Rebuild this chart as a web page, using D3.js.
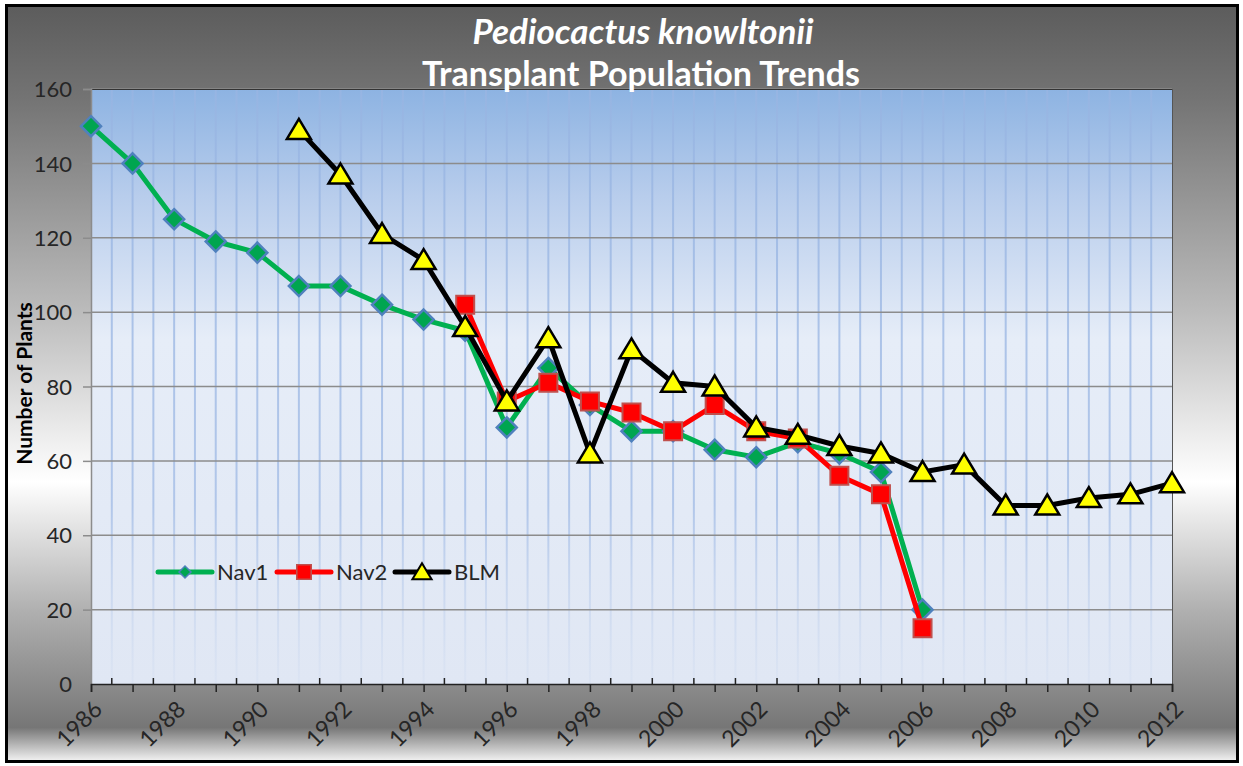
<!DOCTYPE html>
<html>
<head>
<meta charset="utf-8">
<script src="https://cdn.jsdelivr.net/npm/d3@7/dist/d3.min.js"></script>
<style>
  body { margin: 0; background: #fff; }
  svg { display: block; }
  text { font-family: Lato, "Open Sans", sans-serif; }
</style>
</head>
<body>
<div id="chart"></div>
<script>
// data
var nav1Years = [1986, 1987, 1988, 1989, 1990, 1991, 1992, 1993, 1994, 1995, 1996, 1997, 1998, 1999, 2000, 2001, 2002, 2003, 2004, 2005, 2006];
var nav1Values = [150, 140, 125, 119, 116, 107, 107, 102, 98, 95, 69, 85, 75, 68, 68, 63, 61, 65, 62, 57, 20];

var nav2Years = [1995, 1996, 1997, 1998, 1999, 2000, 2001, 2002, 2003, 2004, 2005, 2006];
var nav2Values = [102, 76, 81, 76, 73, 68, 75, 68, 66, 56, 51, 15];

var blmYears = [1991, 1992, 1993, 1994, 1995, 1996, 1997, 1998, 1999, 2000, 2001, 2002, 2003, 2004, 2005, 2006, 2007, 2008, 2009, 2010, 2011, 2012];
var blmValues = [149, 137, 121, 114, 96, 76, 93, 62, 90, 81, 80, 69, 67, 64, 62, 57, 59, 48, 48, 50, 51, 54];

var yTicks = [0, 20, 40, 60, 80, 100, 120, 140, 160];
var xLabelYears = [1986, 1988, 1990, 1992, 1994, 1996, 1998, 2000, 2002, 2004, 2006, 2008, 2010, 2012];
var seriesNames = ["Nav1", "Nav2", "BLM"];

var width = 1243, height = 766;
var plotLeft = 91, plotRight = 1172, plotTop = 89, plotBottom = 684;

var svg = d3.select("#chart").append("svg")
  .attr("width", width)
  .attr("height", height);

var defs = svg.append("defs");

var outerGrad = defs.append("linearGradient")
  .attr("id", "outerGrad")
  .attr("x1", 0).attr("y1", 0).attr("x2", 0).attr("y2", 1);
[[0, "#5c5c5c"], [0.12, "#737373"], [0.4, "#bababa"], [0.63, "#ffffff"], [0.8, "#b0b0b0"], [0.955, "#767676"], [1, "#f4f4f4"]]
  .forEach(function(s) {
    outerGrad.append("stop").attr("offset", s[0]).attr("stop-color", s[1]);
  });

var plotGrad = defs.append("linearGradient")
  .attr("id", "plotGrad")
  .attr("x1", 0).attr("y1", 0).attr("x2", 0).attr("y2", 1);
[[0, "#8db3e2"], [0.18, "#b8cdec"], [0.42, "#e6edf8"], [1, "#e0e7f4"]]
  .forEach(function(s) {
    plotGrad.append("stop").attr("offset", s[0]).attr("stop-color", s[1]);
  });

var gridGrad = defs.append("linearGradient")
  .attr("id", "gridGrad")
  .attr("gradientUnits", "userSpaceOnUse")
  .attr("x1", 0).attr("y1", plotTop).attr("x2", 0).attr("y2", plotBottom);
[[0, "#98b5e2", 0.85], [0.7, "#a4bde6", 0.8], [1, "#c8d6ee", 0.2]]
  .forEach(function(s) {
    gridGrad.append("stop").attr("offset", s[0]).attr("stop-color", s[1]).attr("stop-opacity", s[2]);
  });

// outer frame
svg.append("rect")
  .attr("x", 6.5).attr("y", 5.5)
  .attr("width", 1231).attr("height", 756)
  .attr("fill", "url(#outerGrad)")
  .attr("stroke", "#000")
  .attr("stroke-width", 3);

var x = d3.scaleLinear()
  .domain([1986, 2012])
  .range([plotLeft, plotRight]);

var y = d3.scaleLinear()
  .domain([0, 160])
  .range([plotBottom, plotTop]);

// plot area
svg.append("rect")
  .attr("x", plotLeft).attr("y", plotTop)
  .attr("width", plotRight - plotLeft).attr("height", plotBottom - plotTop)
  .attr("fill", "url(#plotGrad)");

// vertical grid every half year
var halfYears = d3.range(1986.5, 2012, 0.5);
svg.append("g")
  .selectAll("rect")
  .data(halfYears)
  .enter().append("rect")
    .attr("x", function(d) { return x(d) - 1; })
    .attr("width", 2)
    .attr("y", plotTop)
    .attr("height", plotBottom - plotTop)
    .attr("fill", "url(#gridGrad)");

// horizontal grid
svg.append("g")
  .selectAll("line")
  .data(yTicks.slice(1))
  .enter().append("line")
    .attr("x1", plotLeft)
    .attr("x2", plotRight)
    .attr("y1", function(d) { return y(d); })
    .attr("y2", function(d) { return y(d); })
    .attr("stroke", "#8c8c8c")
    .attr("stroke-width", 1.5);

// plot border
svg.append("line")
  .attr("x1", plotLeft).attr("x2", plotRight)
  .attr("y1", plotTop + 0.5).attr("y2", plotTop + 0.5)
  .attr("stroke", "#333").attr("stroke-width", 1);
svg.append("line")
  .attr("x1", plotRight + 0.5).attr("x2", plotRight + 0.5)
  .attr("y1", plotTop).attr("y2", plotBottom)
  .attr("stroke", "#555").attr("stroke-width", 1);

// y axis
var yAxis = d3.axisLeft(y)
  .tickValues(yTicks)
  .tickSize(8)
  .tickPadding(11);
var gy = svg.append("g")
  .attr("transform", "translate(" + plotLeft + ",0)")
  .call(yAxis);
gy.select(".domain").attr("stroke", "#8c8c8c").attr("stroke-width", 1.5);
gy.selectAll(".tick line").attr("stroke", "#8c8c8c").attr("stroke-width", 1.5);
gy.selectAll("text")
  .attr("fill", "#262626")
  .style("font-family", "Lato, sans-serif")
  .style("font-size", "22px")
  .attr("dy", "0.35em");

// x axis: year ticks crossing down, half-year ticks inside
var yearTicks = d3.range(1986, 2013);
var xAxis = d3.axisBottom(x)
  .tickValues(yearTicks)
  .tickSize(8)
  .tickFormat("");
var gx = svg.append("g")
  .attr("transform", "translate(0," + plotBottom + ")")
  .call(xAxis);
gx.select(".domain").attr("stroke", "#222").attr("stroke-width", 1.5);
gx.selectAll(".tick line").attr("stroke", "#222").attr("stroke-width", 1.5);

svg.append("g")
  .selectAll("line")
  .data(d3.range(1986.5, 2012, 1))
  .enter().append("line")
    .attr("x1", function(d) { return x(d); })
    .attr("x2", function(d) { return x(d); })
    .attr("y1", plotBottom)
    .attr("y2", plotBottom - 6)
    .attr("stroke", "#222")
    .attr("stroke-width", 1.5);

svg.append("g")
  .selectAll("text")
  .data(xLabelYears)
  .enter().append("text")
    .attr("transform", function(d) {
      return "translate(" + (x(d) + 7) + "," + (plotBottom + 21) + ") rotate(-45)";
    })
    .attr("text-anchor", "end")
    .attr("dy", "0.35em")
    .attr("fill", "#262626")
    .style("font-size", "23px")
    .text(function(d) { return d; });

// axis title
svg.append("text")
  .attr("transform", "translate(32," + ((plotTop + plotBottom) / 2 - 3) + ") rotate(-90)")
  .attr("text-anchor", "middle")
  .attr("fill", "#000")
  .style("font-size", "21px")
  .style("font-weight", "bold")
  .text("Number of Plants");

// chart title
svg.append("text")
  .attr("x", 643).attr("y", 44)
  .attr("text-anchor", "middle")
  .attr("fill", "#fff")
  .style("font-size", "35px")
  .style("font-style", "italic")
  .style("font-weight", "bold")
  .text("Pediocactus knowltonii");
svg.append("text")
  .attr("x", 641).attr("y", 86)
  .attr("text-anchor", "middle")
  .attr("fill", "#fff")
  .style("font-size", "34px")
  .style("font-weight", "bold")
  .text("Transplant Population Trends");

// series
var diamond = "M0,-10L10,0L0,10L-10,0Z";
var square = "M-9,-9L9,-9L9,9L-9,9Z";
var triangle = "M0,-11L12,9L-12,9Z";

var series = [
  { name: seriesNames[0], years: nav1Years, values: nav1Values, color: "#00b050", path: diamond, fill: "#00a550", stroke: "#4f81bd", sw: 2.5 },
  { name: seriesNames[1], years: nav2Years, values: nav2Values, color: "#ff0000", path: square, fill: "#ff0000", stroke: "#c0504d", sw: 2 },
  { name: seriesNames[2], years: blmYears, values: blmValues, color: "#000000", path: triangle, fill: "#ffff00", stroke: "#000", sw: 2.5 }
];

var line = d3.line()
  .x(function(d) { return x(d[0]); })
  .y(function(d) { return y(d[1]); });

series.forEach(function(s) {
  var pts = s.years.map(function(yr, i) { return [yr, s.values[i]]; });
  var g = svg.append("g");
  g.append("path")
    .datum(pts)
    .attr("d", line)
    .attr("fill", "none")
    .attr("stroke", s.color)
    .attr("stroke-width", 5)
    .attr("stroke-linejoin", "round");
  g.selectAll(".m")
    .data(pts)
    .enter().append("path")
      .attr("transform", function(d) { return "translate(" + x(d[0]) + "," + y(d[1]) + ")"; })
      .attr("d", s.path)
      .attr("fill", s.fill)
      .attr("stroke", s.stroke)
      .attr("stroke-width", s.sw)
      .attr("stroke-linejoin", "miter");
});

// legend
var legendX = [158, 277, 395];
var legend = svg.append("g");
series.forEach(function(s, i) {
  var lx = legendX[i], ly = 572;
  legend.append("line")
    .attr("x1", lx).attr("x2", lx + 54)
    .attr("y1", ly).attr("y2", ly)
    .attr("stroke", s.color)
    .attr("stroke-width", 5)
    .attr("stroke-linecap", "round");
  legend.append("path")
    .attr("transform", "translate(" + (lx + 27) + "," + ly + ") scale(" + (i == 0 ? 0.6 : 0.8) + ")")
    .attr("d", s.path)
    .attr("fill", s.fill)
    .attr("stroke", s.stroke)
    .attr("stroke-width", s.sw);
  legend.append("text")
    .attr("x", lx + 59).attr("y", ly)
    .attr("dy", "0.35em")
    .attr("fill", "#262626")
    .style("font-size", "22px")
    .text(s.name);
});
</script>
</body>
</html>
